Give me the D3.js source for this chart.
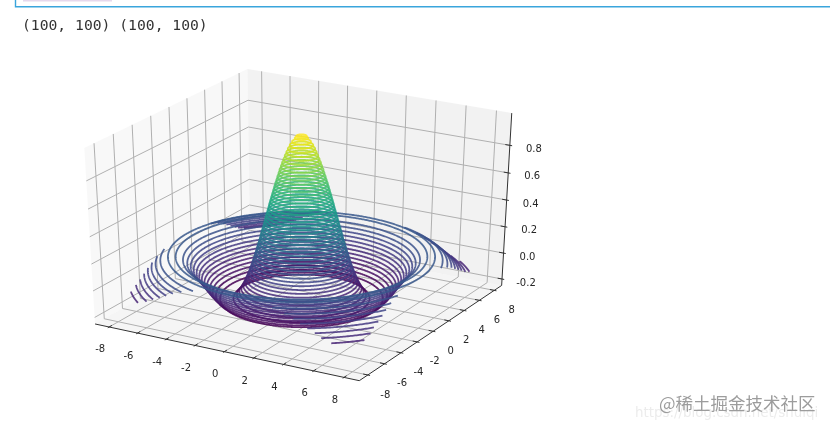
<!DOCTYPE html>
<html>
<head>
<meta charset="utf-8">
<style>
html, body { margin: 0; padding: 0; background: #fff; overflow: hidden; }
svg { display: block; filter: blur(0.55px); }
.tick { font: 10px "DejaVu Sans"; fill: #262626; text-anchor: middle; dominant-baseline: central; }
</style>
<script src="https://d3js.org/d3.v7.min.js"></script>
</head>
<body>
<svg width="830" height="429"></svg>
<script>
// contour rings: z level and radius from the centre of the xy plane
var ringLevels = [
	-0.2, -0.2, -0.175, -0.175, -0.15, -0.15, -0.125, -0.125, -0.1, -0.1,
	-0.075, -0.075, -0.075, -0.05, -0.05, -0.05, -0.025, -0.025, -0.025,
	0, 0, 0,
	0.025, 0.025, 0.025, 0.05, 0.05, 0.05, 0.075, 0.075, 0.075,
	0.1, 0.1, 0.1, 0.125, 0.125, 0.125,
	0.15, 0.175, 0.2, 0.225, 0.25, 0.275, 0.3, 0.325, 0.35, 0.375,
	0.4, 0.425, 0.45, 0.475, 0.5, 0.525, 0.55, 0.575, 0.6, 0.625, 0.65, 0.675,
	0.7, 0.725, 0.75, 0.775, 0.8, 0.825, 0.85, 0.875, 0.9, 0.925, 0.95, 0.975, 0.99
];
var ringRadii = [
	4.10, 4.91, 3.89, 5.16, 3.74, 5.35, 3.61, 5.52, 3.50, 5.68,
	3.40, 5.83, 10.31, 3.31, 5.98, 9.95, 3.22, 6.13, 9.67,
	3.14, 6.28, 9.42,
	3.06, 6.45, 9.19, 2.99, 6.62, 8.96, 2.92, 6.82, 8.71,
	2.85, 7.07, 8.42, 2.79, 7.50, 7.96,
	2.72, 2.66, 2.60, 2.53, 2.47, 2.42, 2.36, 2.30, 2.24, 2.18,
	2.13, 2.07, 2.01, 1.95, 1.90, 1.84, 1.78, 1.72, 1.66, 1.60, 1.54, 1.47,
	1.41, 1.34, 1.28, 1.20, 1.13, 1.05, 0.97, 0.88, 0.79, 0.68, 0.55, 0.39, 0.30
];
var xTicks = [-8, -6, -4, -2, 0, 2, 4, 6, 8];
var yTicks = [-8, -6, -4, -2, 0, 2, 4, 6, 8];
var zTicks = [-0.2, 0, 0.2, 0.4, 0.6, 0.8];
var gridEdge = 8;

var svg = d3.select("svg");

//world to unit cube
var xw = d3.scaleLinear().domain([-9, 9]).range([0, 1]),
	yw = d3.scaleLinear().domain([-9, 9]).range([0, 1]),
	zw = d3.scaleLinear().domain([-0.25, 1.03]).range([0, 1]);
var xmin = xw.domain()[0], xmax = xw.domain()[1],
	ymin = yw.domain()[0], ymax = yw.domain()[1],
	zmin = zw.domain()[0], zmax = zw.domain()[1];

//projected coordinates to pixels
var px = d3.scaleLinear().domain([-0.1, 0.1]).range([301.5 - 305, 301.5 + 305]),
	py = d3.scaleLinear().domain([-0.1, 0.1]).range([219.5 + 201, 219.5 - 201]);

//camera at azim -60, elev 30, dist 10
var az = -60 * Math.PI / 180, el = 30 * Math.PI / 180, dist = 10;
var n = [Math.cos(az) * Math.cos(el), Math.sin(az) * Math.cos(el), Math.sin(el)],
	u = [-Math.sin(az), Math.cos(az), 0],
	v = [-Math.cos(az) * Math.sin(el), -Math.sin(az) * Math.sin(el), Math.cos(el)];

function project(x, y, z) {
	var q = [xw(x) - 0.5, yw(y) - 0.5, zw(z) - 0.5];
	var w = dist - d3.sum(q, function(d, i) { return d * n[i]; });
	return [
		px(d3.sum(q, function(d, i) { return d * u[i]; }) / w),
		py(d3.sum(q, function(d, i) { return d * v[i]; }) / w)
	];
}

var line3 = d3.line()
	.x(function(d) { return project(d[0], d[1], d[2])[0]; })
	.y(function(d) { return project(d[0], d[1], d[2])[1]; });

//top of the notebook cell above the output
svg.append("rect").attr("x", 23).attr("y", 0).attr("width", 89).attr("height", 1.5).attr("fill", "#e6d8ec");
svg.append("path").attr("d", "M15.5,0V6.7H830").attr("fill", "none").attr("stroke", "#3aa5dc").attr("stroke-width", 1.4);
svg.append("text").attr("x", 22).attr("y", 30)
	.attr("font-family", "DejaVu Sans Mono").attr("font-size", 14.7).attr("fill", "#333")
	.text("(100, 100) (100, 100)");

//panes
var panes = [
	{ c: "rgba(242,242,242,0.5)", p: [[xmin, ymin, zmin], [xmin, ymax, zmin], [xmin, ymax, zmax], [xmin, ymin, zmax]] },
	{ c: "rgba(230,230,230,0.5)", p: [[xmin, ymax, zmin], [xmax, ymax, zmin], [xmax, ymax, zmax], [xmin, ymax, zmax]] },
	{ c: "rgba(236,236,236,0.5)", p: [[xmin, ymin, zmin], [xmax, ymin, zmin], [xmax, ymax, zmin], [xmin, ymax, zmin]] }
];
svg.append("g").selectAll("path").data(panes)
	.enter().append("path")
	.attr("d", function(d) { return line3(d.p) + "Z"; })
	.attr("fill", function(d) { return d.c; });

//grid
var grid = [];
xTicks.forEach(function(t) { grid.push([[t, ymin, zmin], [t, ymax, zmin], [t, ymax, zmax]]); });
yTicks.forEach(function(t) { grid.push([[xmax, t, zmin], [xmin, t, zmin], [xmin, t, zmax]]); });
zTicks.forEach(function(t) { grid.push([[xmin, ymin, t], [xmin, ymax, t], [xmax, ymax, t]]); });
svg.append("g").selectAll("path").data(grid)
	.enter().append("path")
	.attr("d", line3)
	.attr("fill", "none").attr("stroke", "#b0b0b0").attr("stroke-width", 1);

//axis lines and tick marks
var axisLines = [
	[[xmin, ymin, zmin], [xmax, ymin, zmin]],
	[[xmax, ymin, zmin], [xmax, ymax, zmin]],
	[[xmax, ymax, zmin], [xmax, ymax, zmax]]
];
xTicks.forEach(function(t) { axisLines.push([[t, ymin - 0.15, zmin], [t, ymin + 0.3, zmin]]); });
yTicks.forEach(function(t) { axisLines.push([[xmax + 0.15, t, zmin], [xmax - 0.3, t, zmin]]); });
zTicks.forEach(function(t) { axisLines.push([[xmax + 0.15, ymax, t], [xmax - 0.3, ymax, t]]); });
svg.append("g").selectAll("path").data(axisLines)
	.enter().append("path")
	.attr("d", line3)
	.attr("fill", "none").attr("stroke", "#333").attr("stroke-width", 1);

//tick labels, short dash as in the plot
function addLabels(ticks, pos, dx, dy, fmt) {
	svg.append("g").selectAll("text").data(ticks)
		.enter().append("text").attr("class", "tick")
		.attr("x", function(t) { return pos(t)[0] + dx; })
		.attr("y", function(t) { return pos(t)[1] + dy; })
		.text(function(t) { return fmt(t).replace("\u2212", "-"); });
}
addLabels(xTicks, function(t) { return project(t, ymin, zmin); }, -9, 22, d3.format("d"));
addLabels(yTicks, function(t) { return project(xmax, t, zmin); }, 17.5, 19, d3.format("d"));
addLabels(zTicks, function(t) { return project(xmax, ymax, t); }, 24, 3, d3.format(".1f"));

//contours, lower levels first, cut off at the edge of the xy grid
var color = d3.scaleSequential(d3.interpolateViridis).domain([d3.min(ringLevels), d3.max(ringLevels)]);
var angle = d3.scaleLinear().domain([0, 720]).range([0, 2 * Math.PI]);
var rings = d3.range(ringLevels.length).map(function(i) {
	return {
		z: ringLevels[i],
		pts: d3.range(721).map(function(a) {
			return [ringRadii[i] * Math.cos(angle(a)), ringRadii[i] * Math.sin(angle(a)), ringLevels[i]];
		})
	};
});
var ringLine = d3.line()
	.defined(function(d) { return Math.abs(d[0]) <= gridEdge && Math.abs(d[1]) <= gridEdge; })
	.x(line3.x())
	.y(line3.y());
svg.append("g").selectAll("path").data(rings)
	.enter().append("path")
	.attr("d", function(d) { return ringLine(d.pts); })
	.attr("fill", "none").attr("stroke-width", 1.8).attr("stroke-opacity", 0.85)
	.attr("stroke", function(d) { return color(d.z); });

//watermarks
svg.append("text").attr("x", 635).attr("y", 417)
	.attr("font-family", "DejaVu Sans").attr("font-size", 13.4).attr("fill", "#ececec")
	.text("https://blog.csdn.net/shuiqi");
svg.append("text").attr("x", 659).attr("y", 410)
	.attr("font-family", "Noto Sans CJK SC").attr("font-size", 17.5).attr("fill", "#9c9c9c")
	.text("@稀土掘金技术社区");
</script>
</body>
</html>
